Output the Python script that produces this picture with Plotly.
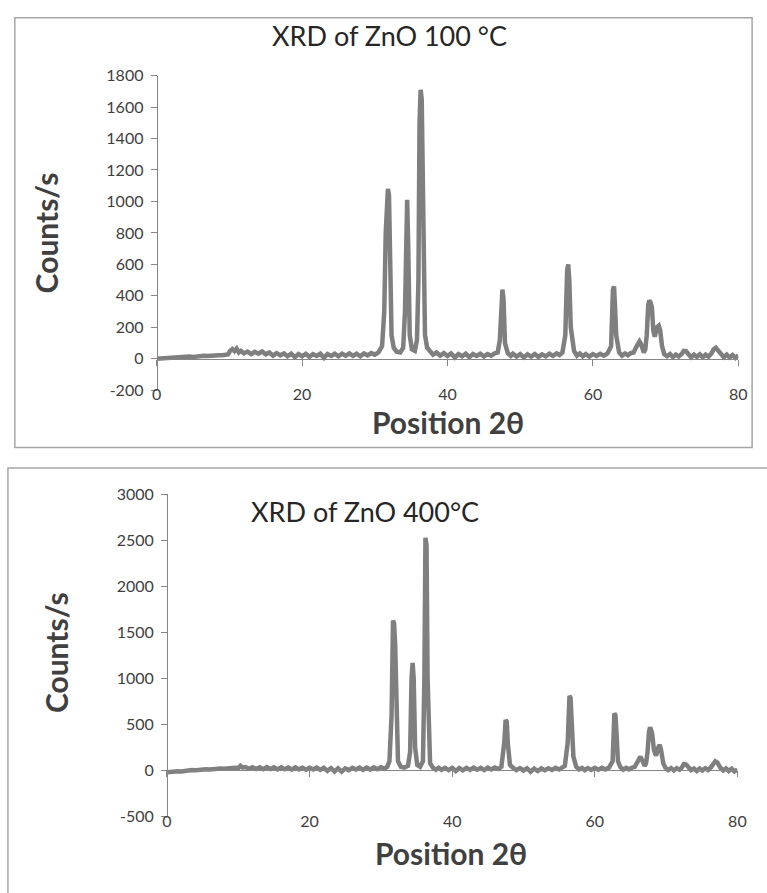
import plotly.graph_objects as go

W, H = 767, 893

# ---------------- data: (2θ, counts/s) ----------------
pattern_100 = [
    (0, 0), (0.5, 2), (1, 3), (1.5, 6), (2, 5), (2.5, 9), (3, 8), (3.5, 12), (4, 10), (4.5, 14),
    (5, 12), (5.5, 16), (6, 15), (6.5, 19), (7, 17), (7.5, 21), (8, 20), (8.5, 23), (9, 22), (9.5, 26),
    (9.8, 28), (10.1, 50), (10.4, 62), (10.7, 48), (11.0, 64), (11.3, 40), (11.6, 50),
    (12, 34), (12.5, 46), (13, 30), (13.5, 44), (14, 32), (14.5, 46), (15, 28), (15.5, 40), (16, 20),
    (16.5, 36), (17, 22), (17.5, 34), (18, 16), (18.5, 32), (19, 10), (19.5, 30), (20, 16), (20.5, 32),
    (21, 12), (21.5, 30), (22, 18), (22.5, 32), (23, 6), (23.5, 30), (24, 18), (24.5, 32), (25, 16),
    (25.5, 32), (26, 20), (26.5, 34), (27, 18), (27.5, 32), (28, 16), (28.5, 34), (29, 22), (29.5, 36),
    (30, 26), (30.5, 40),
    (31.0, 80), (31.3, 300), (31.5, 800), (31.65, 1060), (31.8, 1080), (31.95, 1040), (32.1, 400),
    (32.3, 150), (32.6, 70), (33.0, 45), (33.5, 40), (33.9, 70), (34.15, 300), (34.3, 900),
    (34.45, 1010), (34.6, 700), (34.8, 150), (35.1, 60), (35.5, 50), (35.8, 120), (36.0, 500),
    (36.15, 1500), (36.3, 1710), (36.45, 1650), (36.6, 900), (36.75, 340), (36.9, 150), (37.2, 70),
    (37.6, 45),
    (38, 26), (38.5, 40), (39, 20), (39.5, 36), (40, 18), (40.5, 34), (41, 8), (41.5, 30), (42, 16),
    (42.5, 32), (43, 10), (43.5, 30), (44, 18), (44.5, 32), (45, 14), (45.5, 30), (46, 20), (46.5, 34),
    (46.9, 40), (47.2, 120), (47.4, 420), (47.55, 440), (47.7, 380), (47.9, 100), (48.3, 35),
    (48.7, 18), (49, 32), (49.5, 14), (50, 30), (50.5, 8), (51, 28), (51.5, 14), (52, 30), (52.5, 12),
    (53, 28), (53.5, 16), (54, 32), (54.5, 18), (55, 34), (55.4, 24),
    (55.8, 40), (56.2, 150), (56.45, 560), (56.6, 600), (56.75, 500), (56.95, 200), (57.4, 50),
    (57.8, 20), (58.2, 34), (58.6, 16), (59, 30), (59.5, 14), (60, 30), (60.5, 18), (61, 32),
    (61.5, 20), (62, 34),
    (62.5, 80), (62.75, 440), (62.9, 460), (63.05, 320), (63.2, 150), (63.6, 40),
    (64, 20), (64.4, 34), (64.8, 22), (65.2, 36), (65.6, 40),
    (65.9, 70), (66.2, 95), (66.4, 110), (66.6, 95), (66.8, 60), (67.0, 40), (67.2, 60), (67.4, 150),
    (67.6, 340), (67.75, 370), (67.9, 360), (68.1, 330), (68.3, 180), (68.5, 140), (68.8, 200),
    (69.05, 210), (69.25, 180), (69.5, 80),
    (69.8, 30), (70.2, 16), (70.6, 30), (71, 10), (71.4, 26), (71.8, 14), (72.2, 30),
    (72.5, 50), (72.8, 48), (73.1, 30), (73.5, 10), (73.9, 26), (74.3, 12), (74.7, 28), (75.1, 10),
    (75.5, 26), (75.9, 14), (76.3, 34),
    (76.6, 60), (76.9, 70), (77.2, 55), (77.6, 25),
    (78, 10), (78.4, 26), (78.8, 8), (79.2, 24), (79.6, 6), (80, 22),
]

pattern_400 = [
    (0, -20), (0.5, -14), (1, -16), (1.5, -8), (2, -10), (2.5, -2), (3, -4), (3.5, 4), (4, 2),
    (4.5, 10), (5, 6), (5.5, 14), (6, 10), (6.5, 18), (7, 14), (7.5, 22), (8, 18), (8.5, 26), (9, 22),
    (9.5, 30), (10, 24), (10.3, 50), (10.6, 30), (11, 36), (11.5, 18), (12, 36), (12.5, 16), (13, 34),
    (13.5, 14), (14, 36), (14.5, 16), (15, 34), (15.5, 12), (16, 34), (16.5, 14), (17, 32), (17.5, 10),
    (18, 34), (18.5, 12), (19, 30), (19.5, 8), (20, 30), (20.5, 10), (21, 32), (21.5, 6), (22, 30),
    (22.5, -4), (23, 26), (23.5, -10), (24, 24), (24.5, -14), (25, 22), (25.5, 4), (26, 28),
    (26.5, 10), (27, 30), (27.5, 6), (28, 32), (28.5, 10), (29, 34), (29.5, 14), (30, 36), (30.5, 20),
    (30.9, 40), (31.2, 100), (31.5, 600), (31.7, 1630), (31.85, 1600), (32.0, 1380), (32.15, 600),
    (32.4, 100), (32.8, 40), (33.3, 30), (33.8, 50), (34.1, 200), (34.3, 1000), (34.45, 1170),
    (34.6, 1000), (34.8, 250), (35.1, 60), (35.5, 40), (35.9, 100), (36.1, 1000), (36.25, 2530),
    (36.4, 2450), (36.55, 1000), (36.7, 300), (36.9, 80), (37.3, 30),
    (37.7, 8), (38.1, 30), (38.5, 6), (39, 28), (39.5, 4), (40, 28), (40.5, -6), (41, 26), (41.5, 2),
    (42, 28), (42.5, 6), (43, 30), (43.5, 8), (44, 28), (44.5, 4), (45, 30), (45.5, 10), (46, 32),
    (46.5, 16),
    (46.9, 40), (47.3, 300), (47.5, 550), (47.65, 530), (47.8, 300), (48.1, 60), (48.6, 25),
    (49, 4), (49.5, 26), (50, 0), (50.5, 24), (51, -14), (51.5, 20), (52, -6), (52.5, 22), (53, 2),
    (53.5, 24), (54, 6), (54.5, 28), (55, 10), (55.4, 30),
    (55.8, 50), (56.2, 300), (56.45, 810), (56.6, 790), (56.75, 600), (57, 150), (57.4, 40),
    (57.8, 10), (58.2, 28), (58.6, 4), (59, 26), (59.5, 6), (60, 28), (60.5, 8), (61, 30), (61.5, 10),
    (62, 32),
    (62.5, 100), (62.75, 620), (62.9, 600), (63.05, 400), (63.25, 100), (63.6, 35),
    (64, 8), (64.4, 28), (64.8, 12), (65.2, 30), (65.6, 40),
    (65.9, 80), (66.2, 130), (66.4, 150), (66.6, 120), (66.8, 70), (67, 50), (67.2, 80), (67.4, 200),
    (67.6, 420), (67.75, 470), (67.9, 440), (68.05, 400), (68.3, 220), (68.6, 160), (68.9, 250),
    (69.1, 280), (69.3, 220), (69.6, 80),
    (69.9, 30), (70.3, 4), (70.7, 26), (71.1, 0), (71.5, 24), (71.9, 8), (72.2, 30),
    (72.5, 70), (72.8, 65), (73.1, 35), (73.5, 4), (73.9, 22), (74.3, -6), (74.7, 20), (75.1, 0),
    (75.5, 24), (75.9, 6), (76.3, 36),
    (76.6, 80), (76.9, 100), (77.2, 85), (77.6, 30),
    (78, 0), (78.4, 22), (78.8, -6), (79.2, 18), (79.6, -10), (80, 10),
]

x_ticks = [0, 20, 40, 60, 80]
y_ticks_100 = [-200, 0, 200, 400, 600, 800, 1000, 1200, 1400, 1600, 1800]
y_ticks_400 = [-500, 0, 500, 1000, 1500, 2000, 2500, 3000]
titles = ["XRD of ZnO 100 °C", "XRD of ZnO 400°C"]
x_title = "Position 2θ"
y_title = "Counts/s"

# ---------------- helpers ----------------
def px(x):
    return x / W

def py(y):
    return 1 - y / H

LINE = "#7f7f7f"
AXIS = "#868686"
TXT = "#404040"
FONT = "Lato"

fig = go.Figure()
for i, pat in enumerate([pattern_100, pattern_400]):
    xs = [p[0] for p in pat]
    ys = [p[1] for p in pat]
    fig.add_trace(go.Scatter(x=xs, y=ys, mode="lines", line=dict(color=LINE, width=4.5),
                             xaxis="x" if i == 0 else "x2", yaxis="y" if i == 0 else "y2",
                             showlegend=False, hoverinfo="skip"))
# empty traces so the overlay (label) axes are drawn
fig.add_trace(go.Scatter(x=[None], y=[None], xaxis="x3", yaxis="y", showlegend=False))
fig.add_trace(go.Scatter(x=[None], y=[None], xaxis="x4", yaxis="y2", showlegend=False))

# panel geometry (pixels)
P = [
    dict(x0=154.5, x1=747, ytop=67, ybot=388.5, ymin=-200, ymax=1800, frame=(10, 8, 761, 447),
         title=(392, 26), ytitle=(42, 228), xtitle=(451, 421), yt=y_ticks_100),
    dict(x0=165, x1=746, ytop=495, ybot=824, ymin=-500, ymax=3000, frame=(3, 468, 800, 930),
         title=(367, 512), ytitle=(52, 657), xtitle=(454, 861), yt=y_ticks_400),
]

layout = dict(width=W, height=H, margin=dict(l=0, r=0, t=0, b=0),
              paper_bgcolor="white", plot_bgcolor="rgba(0,0,0,0)", showlegend=False)
shapes, annotations = [], []
for i, p in enumerate(P):
    xa = "xaxis" if i == 0 else "xaxis2"
    ya = "yaxis" if i == 0 else "yaxis2"
    xlab = "xaxis3" if i == 0 else "xaxis4"
    xref = "x" if i == 0 else "x2"
    zero_py = p["ytop"] + (p["ymax"] - 0) / (p["ymax"] - p["ymin"]) * (p["ybot"] - p["ytop"])
    xdom = [px(p["x0"]), px(p["x1"])]
    ydom = [py(p["ybot"]), py(p["ytop"])]
    # axis drawn at y = 0 with tick marks
    layout[xa] = dict(domain=xdom, range=[0, 80], anchor="free", position=py(zero_py),
                      showline=True, linecolor=AXIS, linewidth=1, ticks="outside", ticklen=6,
                      tickcolor=AXIS, tickvals=x_ticks, showticklabels=False, showgrid=False,
                      zeroline=False, fixedrange=True)
    # overlay axis carrying the labels at the bottom
    layout[xlab] = dict(domain=xdom, range=[0, 80], overlaying=xref, anchor="free",
                        position=py(p["ybot"] - 7), showline=False, ticks="", tickvals=x_ticks,
                        showticklabels=True, showgrid=False, zeroline=False,
                        tickfont=dict(family=FONT, size=16, color=TXT), fixedrange=True)
    layout[ya] = dict(domain=ydom, range=[p["ymin"], p["ymax"]], anchor="free", position=xdom[0],
                      showline=True, linecolor=AXIS, linewidth=1, ticks="outside", ticklen=6,
                      tickcolor=AXIS, tickvals=p["yt"], ticktext=[str(v) for v in p["yt"]],
                      showgrid=False, zeroline=False,
                      tickfont=dict(family=FONT, size=16, color=TXT), ticklabelstandoff=4,
                      fixedrange=True)
    fx0, fy0, fx1, fy1 = p["frame"]
    shapes.append(dict(type="rect", xref="paper", yref="paper", x0=px(fx0), x1=px(fx1),
                       y0=py(fy1), y1=py(fy0), line=dict(color="#a6a6a6", width=1.5),
                       fillcolor="rgba(0,0,0,0)", layer="below"))
    annotations.append(dict(text=titles[i], x=px(p["title"][0]), y=py(p["title"][1]),
                            xref="paper", yref="paper", showarrow=False, xanchor="center",
                            yanchor="middle", font=dict(family=FONT, size=27, color="#262626")))
    annotations.append(dict(text="<b>" + y_title + "</b>", x=px(p["ytitle"][0]), y=py(p["ytitle"][1]),
                            xref="paper", yref="paper", showarrow=False, textangle=-90,
                            xanchor="center", yanchor="middle",
                            font=dict(family=FONT, size=30, color=TXT)))
    annotations.append(dict(text="<b>" + x_title + "</b>", x=px(p["xtitle"][0]), y=py(p["xtitle"][1]),
                            xref="paper", yref="paper", showarrow=False, xanchor="center",
                            yanchor="middle", font=dict(family=FONT, size=30, color=TXT)))

layout["shapes"] = shapes
layout["annotations"] = annotations
fig.update_layout(**layout)
fig.write_html("out.html", config={"displayModeBar": False, "staticPlot": True},
               post_script="document.body.style.margin='0';document.body.style.overflow='hidden';")
